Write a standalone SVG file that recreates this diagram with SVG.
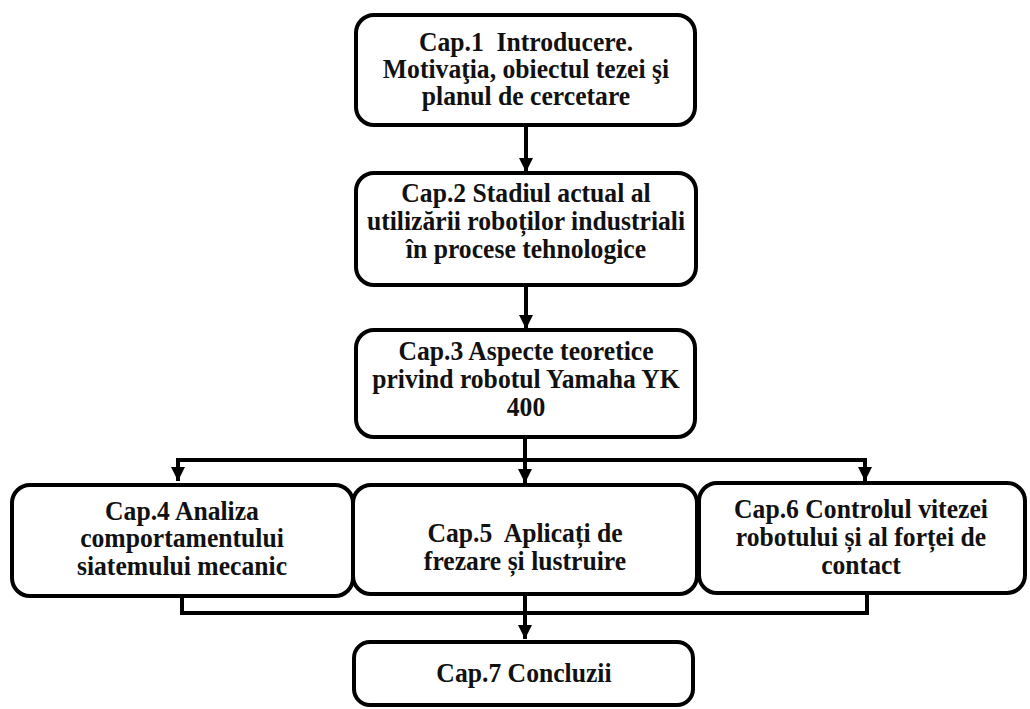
<svg xmlns="http://www.w3.org/2000/svg" width="1030" height="709" viewBox="0 0 1030 709">
<style>
.box{fill:#fff;stroke:#000;stroke-width:4}
.t{font-family:"Liberation Serif","Times New Roman",serif;font-weight:bold;font-size:27px;fill:#111;text-anchor:middle}
.c{fill:none;stroke:#000;stroke-width:4}
</style>
<defs>
<marker id="ah" viewBox="0 0 14 14" refX="14" refY="7" markerWidth="14" markerHeight="14" markerUnits="userSpaceOnUse" orient="auto">
<path d="M0,0 L14,7 L0,14 Z" fill="#000"/>
</marker>
</defs>
<rect width="1030" height="709" fill="#fff"/>
<g id="connectors">
<line class="c" x1="526" y1="125" x2="526" y2="172" marker-end="url(#ah)"/>
<line class="c" x1="526" y1="287" x2="526" y2="329" marker-end="url(#ah)"/>
<line class="c" x1="525" y1="439" x2="525" y2="483" marker-end="url(#ah)"/>
<polyline class="c" points="178,481 178,460 865,460 865,481" marker-end="url(#ah)"/>
<line class="c" x1="178" y1="462" x2="178" y2="481" marker-end="url(#ah)"/>
<polyline class="c" points="182,597 182,613 867,613 867,595"/>
<line class="c" x1="525" y1="595" x2="525" y2="639" marker-end="url(#ah)"/>
</g>
<g id="cap1">
<rect class="box" x="356" y="15" width="339" height="110" rx="18"/>
<g transform="translate(526 0) scale(0.95 1)">
<text class="t" x="0" y="51" xml:space="preserve">Cap.1  Introducere.</text>
<text class="t" x="0" y="78">Motivaţia, obiectul tezei şi</text>
<text class="t" x="0" y="105">planul de cercetare</text>
</g>
</g>
<g id="cap2">
<rect class="box" x="356" y="173" width="340" height="112" rx="18"/>
<g transform="translate(526 0) scale(0.95 1)">
<text class="t" x="0" y="202">Cap.2 Stadiul actual al</text>
<text class="t" x="0" y="230">utilizării roboților industriali</text>
<text class="t" x="0" y="258">în procese tehnologice</text>
</g>
</g>
<g id="cap3">
<rect class="box" x="356" y="330" width="339" height="107" rx="18"/>
<g transform="translate(526 0) scale(0.95 1)">
<text class="t" x="0" y="360">Cap.3 Aspecte teoretice</text>
<text class="t" x="0" y="388">privind robotul Yamaha YK</text>
<text class="t" x="0" y="416">400</text>
</g>
</g>
<g id="cap4">
<rect class="box" x="12" y="485" width="341" height="111" rx="18"/>
<g transform="translate(182 0) scale(0.95 1)">
<text class="t" x="0" y="520">Cap.4 Analiza</text>
<text class="t" x="0" y="547">comportamentului</text>
<text class="t" x="0" y="575">siatemului mecanic</text>
</g>
</g>
<g id="cap5">
<rect class="box" x="353" y="485" width="344" height="109" rx="18"/>
<g transform="translate(525 0) scale(0.95 1)">
<text class="t" x="0" y="542" xml:space="preserve">Cap.5  Aplicați de</text>
<text class="t" x="0" y="570">frezare și lustruire</text>
</g>
</g>
<g id="cap6">
<rect class="box" x="699" y="483" width="326" height="110" rx="18"/>
<g transform="translate(861 0) scale(0.95 1)">
<text class="t" x="0" y="518">Cap.6 Controlul vitezei</text>
<text class="t" x="0" y="546">robotului și al forței de</text>
<text class="t" x="0" y="574">contact</text>
</g>
</g>
<g id="cap7">
<rect class="box" x="354" y="642" width="339" height="63" rx="16"/>
<g transform="translate(524 0) scale(0.95 1)">
<text class="t" x="0" y="682">Cap.7 Concluzii</text>
</g>
</g>
</svg>
